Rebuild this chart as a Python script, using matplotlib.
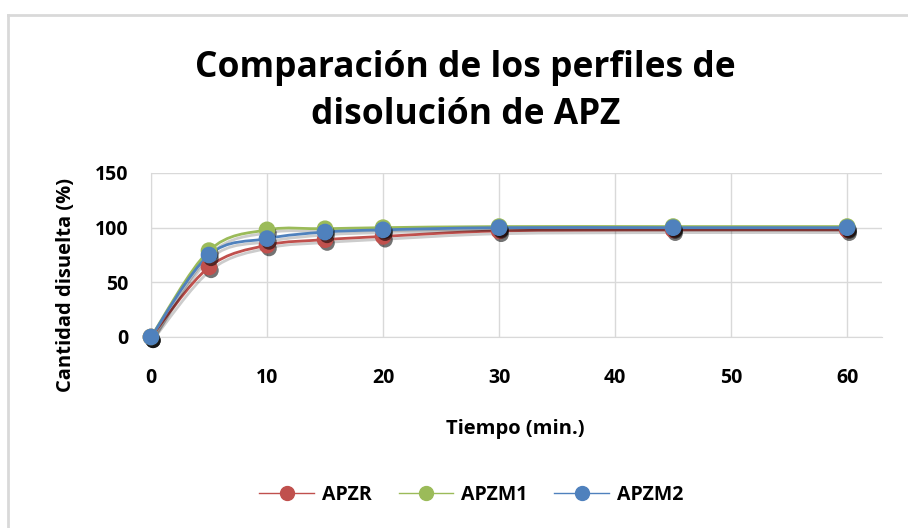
import matplotlib.pyplot as plt
import matplotlib.patheffects as pe
from matplotlib.path import Path
from matplotlib.patches import PathPatch
from matplotlib.lines import Line2D
import numpy as np

plt.rcParams['font.family'] = ['Open Sans', 'DejaVu Sans']

tiempo = [0, 5, 10, 15, 20, 30, 45, 60]
apzr = [0, 64, 84, 89, 92, 97, 98, 98]
apzm1 = [0, 79, 98, 99, 100, 101, 101, 101]
apzm2 = [0, 75, 90, 96, 98, 100, 100, 100]

series = [("APZR", apzr, "#c0504d"), ("APZM1", apzm1, "#9bbb59"), ("APZM2", apzm2, "#4f81bd")]


def smooth_path(x, y, t=1/6):
    # Excel style smoothed line as cubic bezier through the points
    x = np.asarray(x, float)
    y = np.asarray(y, float)
    verts = [(x[0], y[0])]
    codes = [Path.MOVETO]
    n = len(x)
    for i in range(n - 1):
        x0, y0 = (x[i - 1], y[i - 1]) if i > 0 else (x[i], y[i])
        x3, y3 = (x[i + 2], y[i + 2]) if i + 2 < n else (x[i + 1], y[i + 1])
        c1 = (x[i] + (x[i + 1] - x0) * t, y[i] + (y[i + 1] - y0) * t)
        c2 = (x[i + 1] - (x3 - x[i]) * t, y[i + 1] - (y3 - y[i]) * t)
        verts += [c1, c2, (x[i + 1], y[i + 1])]
        codes += [Path.CURVE4] * 3
    return Path(verts, codes)


fig = plt.figure(figsize=(9.08, 5.28), dpi=100)
ax = fig.add_axes([151/908, 1 - 337/528, (882 - 151)/908, (337 - 173)/528])

marker_shadow = [pe.SimplePatchShadow(offset=(1.5, -2.5), alpha=0.55, shadow_rgbFace='black'), pe.Normal()]

for name, vals, col in series:
    patch = PathPatch(smooth_path(tiempo, vals), facecolor='none', edgecolor=col, lw=2, zorder=3,
                      clip_on=False,
                      path_effects=[pe.SimpleLineShadow(offset=(1.5, -2), alpha=0.2), pe.Normal()])
    ax.add_patch(patch)
    ax.plot(tiempo, vals, linestyle='none', marker='o', ms=11, color=col, zorder=4,
            clip_on=False, path_effects=marker_shadow)

ax.set_xlim(0, 63)
ax.set_ylim(0, 150)
ax.set_xticks([0, 10, 20, 30, 40, 50, 60])
ax.set_yticks([0, 50, 100, 150])
ax.grid(True, color='#d9d9d9', lw=1)
ax.set_axisbelow(True)
for s in ['top', 'right']:
    ax.spines[s].set_visible(False)
ax.spines['left'].set_color('#d9d9d9')
ax.spines['bottom'].set_color('#d9d9d9')
ax.tick_params(length=0, labelsize=14)
ax.tick_params(axis='x', pad=22)
ax.tick_params(axis='y', pad=16)
for lbl in ax.get_xticklabels() + ax.get_yticklabels():
    lbl.set_fontweight('bold')
ax.set_xlabel("Tiempo (min.)", fontsize=14.5, fontweight='bold')
ax.set_ylabel("Cantidad disuelta (%)", fontsize=14.5, fontweight='bold')
ax.xaxis.set_label_coords((515 - 151) / 731, -(419 - 337) / 164)
ax.yaxis.set_label_coords(-(151 - 76) / 731, 0.317)

fig.text(0.513, 0.827, "Comparación de los perfiles de\ndisolución de APZ", ha='center', va='center',
         fontsize=25.5, fontweight='bold', linespacing=1.42)

handles = [Line2D([0], [0], color=c, lw=1, marker='o', ms=10) for _, _, c in series]
fig.legend(handles, [n for n, _, _ in series], loc='center', bbox_to_anchor=(0.519, 0.063), ncol=3,
           frameon=False, prop={'size': 14, 'weight': 'bold'}, handlelength=2.8, columnspacing=1.4,
           handletextpad=0.4)

fig.add_artist(Line2D([8/908, 8/908], [0, 1 - 15/528], color='#d9d9d9', lw=2, transform=fig.transFigure))
fig.add_artist(Line2D([8/908, 1], [1 - 15/528, 1 - 15/528], color='#d9d9d9', lw=2, transform=fig.transFigure))

fig.savefig("out.png", dpi=100)
